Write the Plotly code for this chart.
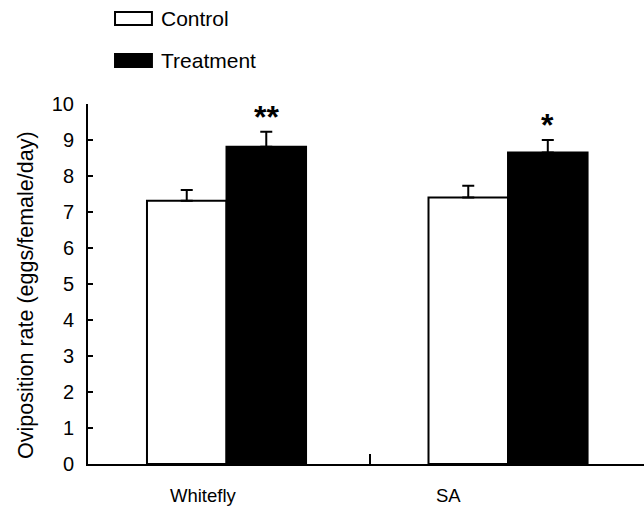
import plotly.graph_objects as go

categories = ["Whitefly", "SA"]
control = [7.31, 7.40]
control_err = [0.30, 0.33]
treatment = [8.81, 8.65]
treatment_err = [0.42, 0.35]
significance = ["**", "*"]
y_ticks = [0, 1, 2, 3, 4, 5, 6, 7, 8, 9, 10]
y_title = "Oviposition rate (eggs/female/day)"

FONT = "Liberation Sans, Arial, sans-serif"
xpos = list(range(len(categories)))

fig = go.Figure()
fig.add_trace(go.Bar(
    x=xpos, y=control, name="Control",
    marker=dict(color="white", line=dict(color="black", width=2)),
    error_y=dict(type="data", array=control_err, arrayminus=[0]*len(control),
                 symmetric=False, color="black", thickness=2, width=6),
    showlegend=False,
))
fig.add_trace(go.Bar(
    x=xpos, y=treatment, name="Treatment",
    marker=dict(color="black", line=dict(color="black", width=2)),
    error_y=dict(type="data", array=treatment_err, arrayminus=[0]*len(treatment),
                 symmetric=False, color="black", thickness=2, width=6),
    showlegend=False,
))

# significance marks above treatment bars
for i, (v, e, s) in enumerate(zip(treatment, treatment_err, significance)):
    fig.add_annotation(x=i + 0.141, y=v + e, text="<b>" + s + "</b>", showarrow=False,
                       yanchor="bottom", yshift=-5,
                       font=dict(family=FONT, size=32, color="black"))

# category labels (offset left of group centre as in reference)
for i, c in enumerate(categories):
    fig.add_annotation(x=i - 0.08 - 0.13 * i, y=0, text=c, showarrow=False,
                       yanchor="middle", yshift=-31,
                       font=dict(family=FONT, size=18.5, color="black"))

# y-axis title
fig.add_annotation(xref="paper", yref="paper", x=-0.1115, y=0.467, text=y_title,
                   textangle=-90, showarrow=False, xanchor="center", yanchor="middle",
                   font=dict(family=FONT, size=21.5, color="black"))

# custom legend
legend_items = [("Control", "white", 1.2556, 1.2194), ("Treatment", "black", 1.1389, 1.1028)]
for name, col, y1, y0 in legend_items:
    fig.add_shape(type="rect", xref="paper", yref="paper",
                  x0=0.0486, x1=0.115, y0=y0, y1=y1,
                  fillcolor=col, line=dict(color="black", width=2))
    fig.add_annotation(xref="paper", yref="paper", x=0.128, y=(y0 + y1) / 2,
                       text=name, showarrow=False, xanchor="left", yanchor="middle",
                       font=dict(family=FONT, size=21, color="black"))

fig.update_layout(
    width=644, height=514,
    margin=dict(l=88, r=0, t=104, b=50),
    paper_bgcolor="white", plot_bgcolor="white",
    barmode="group", bargap=0.435, bargroupgap=0,
    font=dict(family=FONT, size=17, color="black"),
)
fig.update_xaxes(
    range=[-0.492, 1.483], showgrid=False, zeroline=False,
    showline=True, linecolor="black", linewidth=2,
    tickmode="array", tickvals=[0.51], ticktext=[""],
    ticks="inside", ticklen=10, tickwidth=2, tickcolor="black",
)
fig.update_yaxes(
    range=[0, 10], showgrid=False, zeroline=False,
    showline=True, linecolor="black", linewidth=2,
    tickmode="array", tickvals=y_ticks,
    ticks="inside", ticklen=5, tickwidth=2, tickcolor="black",
    ticklabelstandoff=8,
    tickfont=dict(family=FONT, size=20, color="black"),
)

fig.write_html("out.html", config={"displayModeBar": False})
with open("out.html", "r", encoding="utf-8") as f:
    html = f.read()
html = html.replace("<body>", "<body style=\"margin:0;padding:0;overflow:hidden\">", 1)
with open("out.html", "w", encoding="utf-8") as f:
    f.write(html)
